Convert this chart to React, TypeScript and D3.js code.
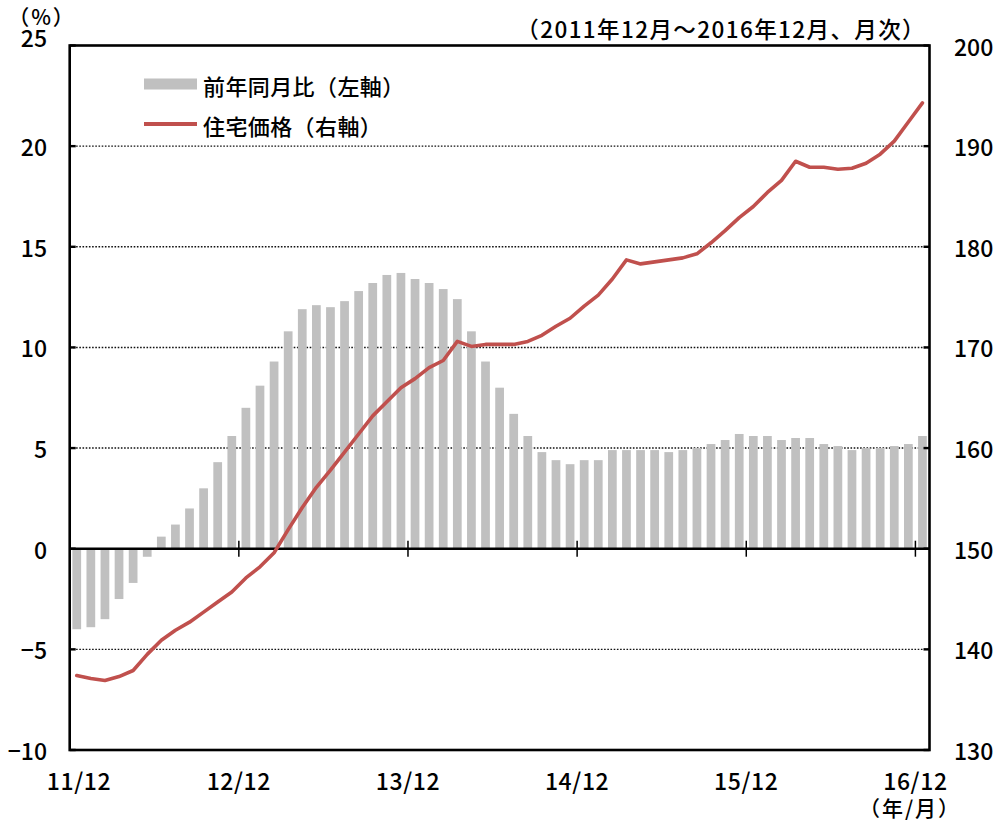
import React from 'react';
import * as d3 from 'd3';

// 2011/12 - 2016/12, monthly
const months: string[] = d3.range(61).map((i) => {
  const y = 2011 + Math.floor((11 + i) / 12);
  const m = ((11 + i) % 12) + 1;
  return `${y}-${m}`;
});

// 前年同月比 (%), left axis
const yoyValues = [
  -4.0, -3.9, -3.5, -2.5, -1.7, -0.4, 0.6, 1.2, 2.0, 3.0,
  4.3, 5.6, 7.0, 8.1, 9.3, 10.8, 11.9, 12.1, 12.0, 12.3,
  12.8, 13.2, 13.6, 13.7, 13.4, 13.2, 12.9, 12.4, 10.8, 9.3,
  8.0, 6.7, 5.6, 4.8, 4.4, 4.2, 4.4, 4.4, 4.9, 4.9,
  4.9, 4.9, 4.8, 4.9, 5.0, 5.2, 5.4, 5.7, 5.6, 5.6,
  5.4, 5.5, 5.5, 5.2, 5.1, 4.9, 5.0, 5.0, 5.1, 5.2,
  5.6,
];

// 住宅価格, right axis
const priceValues = [
  137.4, 137.1, 136.9, 137.3, 137.9, 139.5, 140.9, 141.9, 142.7, 143.7,
  144.7, 145.7, 147.1, 148.2, 149.6, 151.9, 154.1, 156.1, 157.8, 159.6,
  161.4, 163.2, 164.6, 166.0, 166.9, 168.0, 168.7, 170.6, 170.1, 170.3,
  170.3, 170.3, 170.6, 171.2, 172.1, 172.9, 174.1, 175.2, 176.8, 178.7,
  178.3, 178.5, 178.7, 178.9, 179.3, 180.4, 181.6, 182.9, 184.0, 185.4,
  186.6, 188.5, 187.9, 187.9, 187.7, 187.8, 188.3, 189.2, 190.5, 192.4,
  194.3,
];

const leftTicks = [-10, -5, 0, 5, 10, 15, 20, 25];
const rightTicks = [130, 140, 150, 160, 170, 180, 190, 200];
const xTickMonths = ['2011-12', '2012-12', '2013-12', '2014-12', '2015-12', '2016-12'];
const xTickLabels = ['11/12', '12/12', '13/12', '14/12', '15/12', '16/12'];

const legendLabels = ['前年同月比（左軸）', '住宅価格（右軸）'];
const titleText = '（2011年12月～2016年12月、月次）';

const W = 993;
const H = 822;
const left = 69.7;
const right = 929.5;
const top = 45.5;
const bottom = 750;

const numFont = '"Noto Sans CJK JP", "Liberation Sans", sans-serif';

export default function App() {
  const x = d3.scaleBand<string>().domain(months).range([left, right]).padding(0);
  const yL = d3.scaleLinear().domain([-10, 25]).range([bottom, top]);
  const yR = d3.scaleLinear().domain([130, 200]).range([bottom, top]);
  const bw = x.bandwidth() * 0.62;
  const cx = (m: string) => (x(m) as number) + x.bandwidth() / 2;

  const priceLine = d3
    .line<number>()
    .x((_, i) => cx(months[i]))
    .y((v) => yR(v));

  return (
    <svg
      width={W}
      height={H}
      style={{ position: 'absolute', left: 0, top: 0, background: '#fff' }}
    >
      <rect x={0} y={0} width={W} height={H} fill="#fff" />
      {/* dotted grid */}
      {leftTicks
        .filter((t) => t !== 0 && t !== -10 && t !== 25)
        .map((t) => (
          <line
            key={t}
            x1={left}
            x2={right}
            y1={yL(t)}
            y2={yL(t)}
            stroke="#111"
            strokeWidth={1.4}
            strokeDasharray="1.6,1.6"
          />
        ))}

      {/* bars */}
      {yoyValues.map((v, i) => (
        <rect
          key={i}
          x={cx(months[i]) - bw / 2}
          y={Math.min(yL(v), yL(0))}
          width={bw}
          height={Math.abs(yL(v) - yL(0))}
          fill="#c0c0c0"
        />
      ))}

      {/* zero line */}
      <line x1={left} x2={right} y1={yL(0)} y2={yL(0)} stroke="#000" strokeWidth={2.4} />
      {xTickMonths.slice(1).map((m) => (
        <line
          key={m}
          x1={x(m) as number}
          x2={x(m) as number}
          y1={yL(0) - 8}
          y2={yL(0) + 8}
          stroke="#000"
          strokeWidth={1.5}
        />
      ))}

      {/* price line */}
      <path
        d={priceLine(priceValues) || ''}
        fill="none"
        stroke="#c0504d"
        strokeWidth={3.6}
        strokeLinejoin="round"
        strokeLinecap="round"
      />

      {/* frame */}
      <rect
        x={left}
        y={top}
        width={right - left}
        height={bottom - top}
        fill="none"
        stroke="#000"
        strokeWidth={2.6}
      />

      {/* axis ticks inside */}
      {leftTicks.map((t) => (
        <line key={'lt' + t} x1={left} x2={left + 6} y1={yL(t)} y2={yL(t)} stroke="#000" strokeWidth={2.4} />
      ))}
      {rightTicks.map((t) => (
        <line key={'rt' + t} x1={right - 6} x2={right} y1={yR(t)} y2={yR(t)} stroke="#000" strokeWidth={2.4} />
      ))}

      {/* left tick labels */}
      {leftTicks.map((t) => (
        <text
          key={'ll' + t}
          x={47}
          y={t === 25 ? yL(t) - 9 : yL(t)}
          textAnchor="end"
          dominantBaseline="central"
          fontFamily={numFont}
          fontSize={23}
          fontWeight={500}
          fill="#000"
        >
          {t < 0 ? '−' + Math.abs(t) : t}
        </text>
      ))}
      {/* right tick labels */}
      {rightTicks.map((t) => (
        <text
          key={'rl' + t}
          x={954}
          y={yR(t)}
          textAnchor="start"
          dominantBaseline="central"
          fontFamily={numFont}
          fontSize={23}
          fontWeight={500}
          fill="#000"
        >
          {t}
        </text>
      ))}

      {/* x labels */}
      {xTickMonths.map((m, i) => (
        <text
          key={'xl' + m}
          x={Math.max(x(m) as number, 79)}
          y={780}
          textAnchor="middle"
          dominantBaseline="central"
          fontFamily={numFont}
          fontSize={23}
          fontWeight={500}
          letterSpacing={0.6}
          fill="#000"
        >
          {xTickLabels[i]}
        </text>
      ))}
      <text
        x={910}
        y={807}
        textAnchor="middle"
        dominantBaseline="central"
        fontFamily={numFont}
        fontSize={21}
        fontWeight={500}
        letterSpacing={2}
        fill="#000"
      >
        （年/月）
      </text>

      <text
        x={42}
        y={16}
        textAnchor="middle"
        dominantBaseline="central"
        fontFamily={numFont}
        fontSize={21}
        fontWeight={500}
        letterSpacing={2}
        fill="#000"
      >
        （%）
      </text>
      <text
        x={926}
        y={28}
        textAnchor="end"
        dominantBaseline="central"
        fontFamily={numFont}
        fontSize={22.5}
        fontWeight={500}
        letterSpacing={1.4}
        fill="#000"
      >
        {titleText}
      </text>

      {/* legend */}
      <rect x={144} y={78.5} width={53} height={11} fill="#c0c0c0" />
      <text
        x={203}
        y={85}
        dominantBaseline="central"
        fontFamily={numFont}
        fontSize={22}
        fontWeight={500}
        letterSpacing={0.4}
        fill="#000"
      >
        {legendLabels[0]}
      </text>
      <line x1={144} x2={197} y1={124} y2={124} stroke="#c0504d" strokeWidth={4} />
      <text
        x={203}
        y={125}
        dominantBaseline="central"
        fontFamily={numFont}
        fontSize={22}
        fontWeight={500}
        letterSpacing={0.4}
        fill="#000"
      >
        {legendLabels[1]}
      </text>
    </svg>
  );
}
